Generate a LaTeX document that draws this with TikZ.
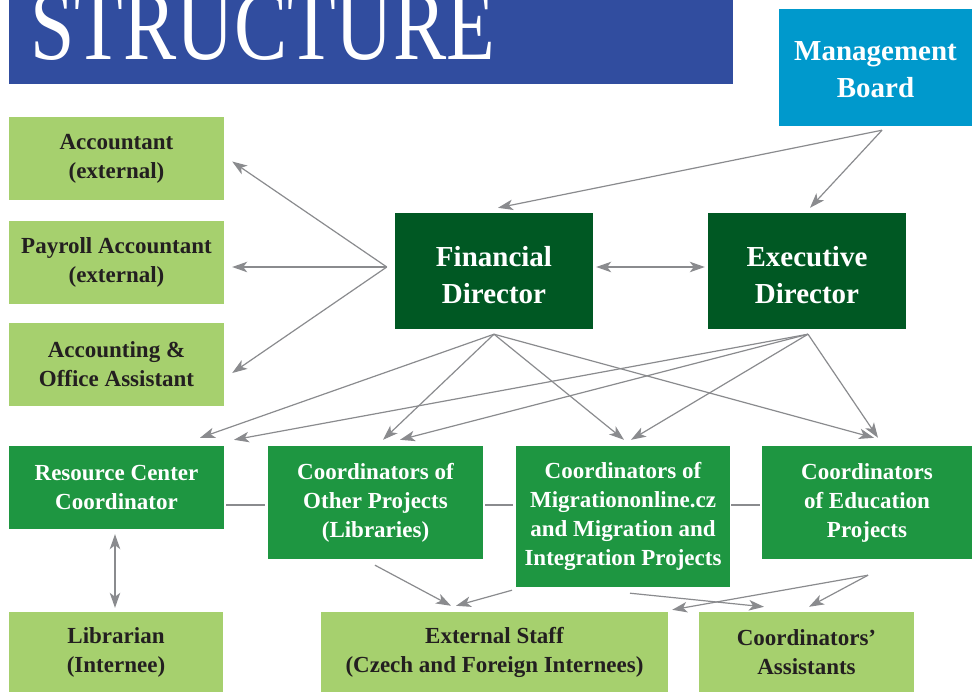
\documentclass[tikz,border=0pt]{standalone}
\usepackage{fontspec}
\setmainfont{Liberation Serif}
\usetikzlibrary{arrows.meta,calc}
\definecolor{titleblue}{RGB}{49,77,159}
\definecolor{mbcyan}{RGB}{0,153,204}
\definecolor{darkgreen}{RGB}{0,88,35}
\definecolor{midgreen}{RGB}{30,150,65}
\definecolor{lightgreen}{RGB}{166,208,110}
\definecolor{conngray}{RGB}{138,139,142}
\definecolor{darktext}{RGB}{35,31,32}
\tikzset{
  boxbase/.style={rectangle, inner sep=0pt, align=center},
  lightbox/.style={boxbase, fill=lightgreen, text=darktext, font=\fontsize{23}{29}\selectfont\bfseries},
  midbox/.style={boxbase, fill=midgreen, text=white, font=\fontsize{23}{29}\selectfont\bfseries},
  darkbox/.style={boxbase, fill=darkgreen, text=white, font=\fontsize{29}{37}\selectfont\bfseries},
  cyanbox/.style={boxbase, fill=mbcyan, text=white, font=\fontsize{29}{37}\selectfont\bfseries},
  conn/.style={draw=conngray, line width=1.2pt},
  tipst/.tip={Stealth[length=15pt,width=10.5pt,inset=4pt]},
  arr/.style={conn, -tipst},
  darr/.style={conn, tipst-tipst},
}
\begin{document}
\begin{tikzpicture}[x=1pt,y=-1pt]
\useasboundingbox (0,0) rectangle (972,691);
% title
\node[boxbase, fill=titleblue, minimum width=724, minimum height=84, anchor=north west] (titlebox) at (9,0) {};
\node[anchor=base west, inner sep=0pt, text=white] (titletext) at (30,59) {\resizebox{465pt}{66pt}{STRUCTURE}};
% boxes
\node[cyanbox, minimum width=193, minimum height=117] (mb) at (875.5,67.5) {\rule{0pt}{24pt}Management\\Board};
\node[lightbox, minimum width=215, minimum height=83] (acc) at (116.5,158.5) {Accountant\\(external)};
\node[lightbox, minimum width=215, minimum height=83] (pay) at (116.5,262.5) {Payroll Accountant\\(external)};
\node[lightbox, minimum width=215, minimum height=83] (off) at (116.5,364.5) {Accounting \&\\Office Assistant};
\node[darkbox, minimum width=198, minimum height=116] (fd) at (494,271) {\rule{0pt}{28pt}Financial\\Director};
\node[darkbox, minimum width=198, minimum height=116] (ed) at (807,271) {\rule{0pt}{28pt}Executive\\Director};
\node[midbox, minimum width=215, minimum height=83] (rc) at (116.5,487.5) {Resource Center\\Coordinator};
\node[midbox, minimum width=215, minimum height=113] (op) at (375.5,502.5) {Coordinators of\\Other Projects\\(Libraries)};
\node[midbox, minimum width=214, minimum height=141] (mig) at (623,516.5) {Coordinators of\\Migrationonline.cz\\and Migration and\\Integration Projects};
\node[midbox, minimum width=210, minimum height=113] (edu) at (867,502.5) {Coordinators\\of Education\\Projects};
\node[lightbox, minimum width=214, minimum height=80] (lib) at (116,652) {Librarian\\(Internee)};
\node[lightbox, minimum width=347, minimum height=80] (ext) at (494.5,652) {External Staff\\(Czech and Foreign Internees)};
\node[lightbox, minimum width=215, minimum height=80] (ca) at (806.5,652) {Coordinators'\\Assistants};
% connection points
\coordinate (mbP) at ($(mb.south)+(6.5,4)$);
\coordinate (fdL) at ($(fd.west)+(-8,-4)$);
\coordinate (fdB) at ($(fd.south)+(0,5)$);
\coordinate (edB) at ($(ed.south)+(1,5)$);
\coordinate (eduB) at ($(edu.south)+(1,16)$);
% management board
\draw[arr] (mbP) -- ($(fd.north)+(4,-5)$);
\draw[arr] (mbP) -- ($(ed.north)+(3,-5)$);
\draw[darr] ($(fd.east)+(3,-4)$) -- ($(ed.west)+(-3,-4)$);
% financial director to left
\draw[arr] (fdL) -- ($(acc.east)+(8,3)$);
\draw[arr] (fdL) -- ($(pay.east)+(8,4.5)$);
\draw[arr] (fdL) -- ($(off.east)+(8,8.5)$);
% directors to coordinators
\draw[arr] (fdB) -- ($(rc.north)+(83.5,-8)$);
\draw[arr] (fdB) -- ($(op.north)+(7.5,-6)$);
\draw[arr] (fdB) -- ($(mig.north)+(1,-6)$);
\draw[arr] (fdB) -- ($(edu.north)+(7,-8)$);
\draw[arr] (edB) -- ($(rc.north)+(117.5,-6)$);
\draw[arr] (edB) -- ($(op.north)+(24.5,-6)$);
\draw[arr] (edB) -- ($(mig.north)+(8,-6)$);
\draw[arr] (edB) -- ($(edu.north)+(11,-8)$);
% horizontal links
\draw[conn] ($(rc.east)+(2,17.5)$) -- ($(op.west)+(-3,2.5)$);
\draw[conn] ($(op.east)+(2,2.5)$) -- ($(mig.west)+(-3,-11.5)$);
\draw[conn] ($(mig.east)+(1,-11.5)$) -- ($(edu.west)+(-2,2.5)$);
% bottom
\draw[darr] ($(rc.south)+(-1.5,5)$) -- ($(lib.north)+(-1,-4)$);
\draw[arr] ($(op.south)+(-0.5,6)$) -- ($(ext.north)+(-43.5,-6)$);
\draw[arr] ($(mig.south)+(-111,3)$) -- ($(ext.north)+(-38.5,-6)$);
\draw[arr] ($(mig.south)+(7,6)$) -- ($(ca.north)+(-42.5,-5)$);
\draw[arr] (eduB) -- ($(ext.north east)+(4,-2)$);
\draw[arr] (eduB) -- ($(ca.north)+(2.5,-5)$);
\end{tikzpicture}
\end{document}
